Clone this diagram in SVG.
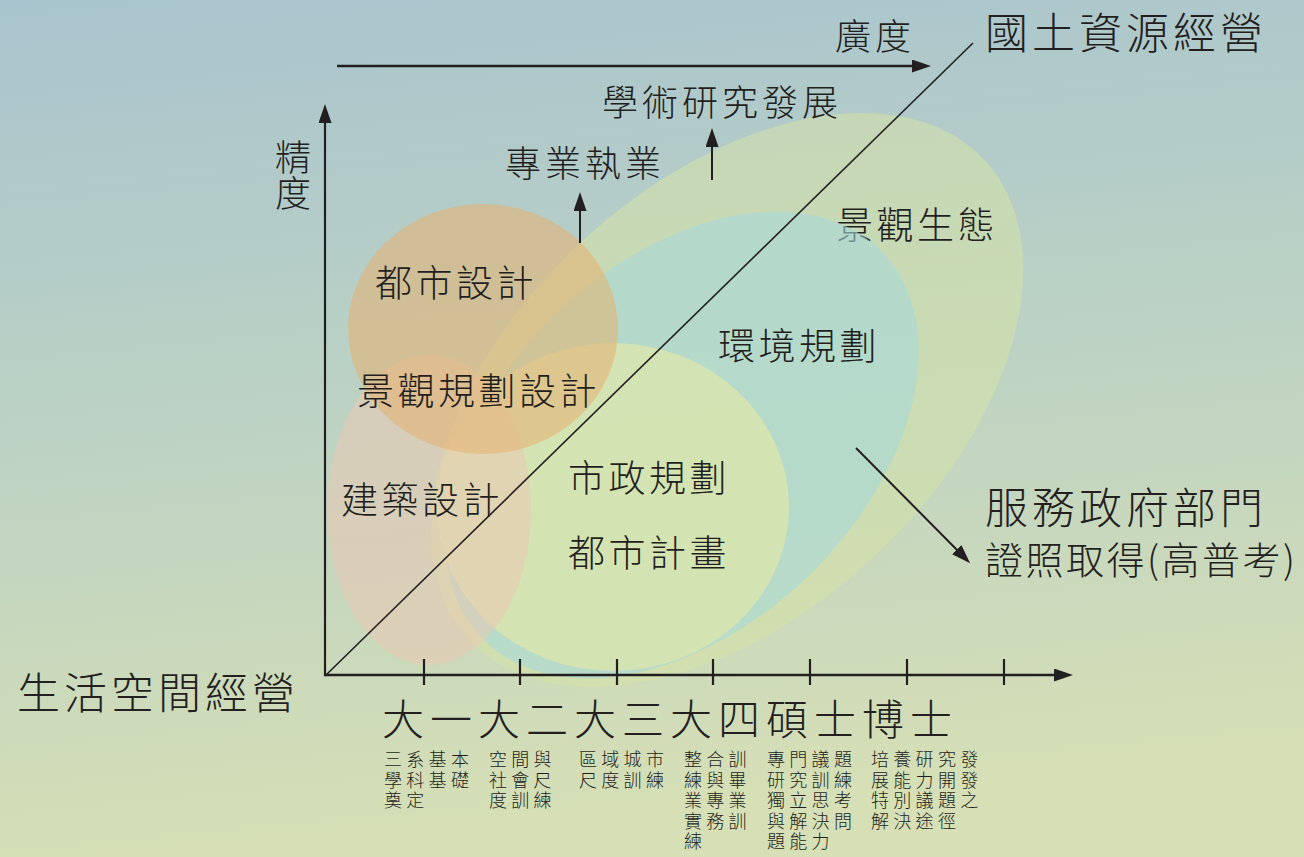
<svg xmlns="http://www.w3.org/2000/svg" width="1304" height="857" viewBox="0 0 1304 857">
<defs>
<linearGradient id="bg" x1="0" y1="0" x2="0.15" y2="1">
<stop offset="0" stop-color="#a8c4ce"/>
<stop offset="0.5" stop-color="#bcd2c4"/>
<stop offset="1" stop-color="#d6dfb5"/>
</linearGradient>
<marker id="ah" viewBox="0 0 19 13" refX="11" refY="6.5" markerWidth="19" markerHeight="13" orient="auto" markerUnits="userSpaceOnUse">
<path d="M0,0 L19,6.5 L0,13 z" fill="#231f20"/>
</marker>
<style>
text{font-family:"Noto Sans CJK TC","Noto Sans CJK SC",sans-serif;fill:#231f20;font-weight:300;}
.lbl{font-size:37px;letter-spacing:3.5px;}
.big{font-size:43px;letter-spacing:4px;}
.mid{font-size:36px;letter-spacing:4px;}
.sm{font-size:18px;letter-spacing:4.3px;}
.ln{stroke:#231f20;fill:none;}
</style>
</defs>
<rect x="0" y="0" width="1304" height="857" fill="url(#bg)"/>

<g id="node-landscape-ecology">
<ellipse cx="727" cy="400" rx="352" ry="215" transform="rotate(-43 727 400)" fill="#d6e2a6" fill-opacity="0.55"/>
<text class="lbl" x="836" y="239">景觀生態</text>
</g>
<g id="node-env-planning">
<ellipse cx="682" cy="445" rx="278" ry="182" transform="rotate(-44 682 445)" fill="#a6d8da" fill-opacity="0.6"/>
<text class="lbl" x="718" y="360">環境規劃</text>
</g>
<g id="node-municipal">
<ellipse cx="613" cy="507" rx="176" ry="164" fill="#dde6ac" fill-opacity="0.78"/>
<text class="lbl" x="568" y="492">市政規劃</text>
<text class="lbl" x="568" y="567">都市計畫</text>
</g>
<g id="node-architecture">
<ellipse cx="429" cy="510" rx="102" ry="155" fill="#eac8b2" fill-opacity="0.55"/>
<text class="lbl" x="341" y="514">建築設計</text>
</g>
<g id="node-urban-design">
<ellipse cx="483" cy="329" rx="135" ry="125" fill="#e6b070" fill-opacity="0.55"/>
<text class="lbl" x="375" y="297">都市設計</text>
<text class="lbl" x="357" y="405">景觀規劃設計</text>
</g>

<g id="connectors">
<line class="ln" x1="325" y1="676" x2="973" y2="43" stroke-width="1.6"/>
<line class="ln" x1="325" y1="676" x2="325" y2="112" stroke-width="2.2" marker-end="url(#ah)"/>
<line class="ln" x1="324" y1="675" x2="1065" y2="675" stroke-width="2.5" marker-end="url(#ah)"/>
<line class="ln" x1="337" y1="66" x2="923" y2="66" stroke-width="2.5" marker-end="url(#ah)"/>
<line class="ln" x1="580" y1="243" x2="580" y2="200" stroke-width="2" marker-end="url(#ah)"/>
<line class="ln" x1="712" y1="180" x2="712" y2="136" stroke-width="2" marker-end="url(#ah)"/>
<line class="ln" x1="856" y1="448" x2="964.5" y2="557.5" stroke-width="2" marker-end="url(#ah)"/>
<g stroke="#231f20" stroke-width="2.2">
<line x1="424" y1="659" x2="424" y2="685"/>
<line x1="520" y1="659" x2="520" y2="685"/>
<line x1="617" y1="659" x2="617" y2="685"/>
<line x1="713" y1="659" x2="713" y2="685"/>
<line x1="810" y1="659" x2="810" y2="685"/>
<line x1="907" y1="659" x2="907" y2="685"/>
<line x1="1004" y1="659" x2="1004" y2="685"/>
</g>
</g>

<g id="axis-labels">
<text class="mid" x="835" y="50">廣度</text>
<text class="big" x="985" y="49">國土資源經營</text>
<text class="mid" x="602" y="116">學術研究發展</text>
<text class="mid" x="505" y="177">專業執業</text>
<text class="mid" x="275" y="171">精<tspan x="275" dy="36">度</tspan></text>
<text class="big" x="985" y="524">服務政府部門</text>
<text style="font-size:38px;letter-spacing:2.5px" x="985" y="574">證照取得(高普考)</text>
<text class="big" x="17" y="709">生活空間經營</text>
<text style="font-size:42px;letter-spacing:6px" x="382" y="735">大一大二大三大四碩士博士</text>
</g>

<g id="stage-notes">
<text class="sm" x="384" y="766">三系基本<tspan x="384" dy="20.5">學科基礎</tspan><tspan x="384" dy="20.5">奠定</tspan></text>
<text class="sm" x="489" y="766">空間與<tspan x="489" dy="20.5">社會尺</tspan><tspan x="489" dy="20.5">度訓練</tspan></text>
<text class="sm" x="579" y="766">區域城市<tspan x="579" dy="20.5">尺度訓練</tspan></text>
<text class="sm" x="684" y="766">整合訓<tspan x="684" dy="20.5">練與畢</tspan><tspan x="684" dy="20.5">業專業</tspan><tspan x="684" dy="20.5">實務訓</tspan><tspan x="684" dy="20.5">練</tspan></text>
<text class="sm" x="767" y="766">專門議題<tspan x="767" dy="20.5">研究訓練</tspan><tspan x="767" dy="20.5">獨立思考</tspan><tspan x="767" dy="20.5">與解決問</tspan><tspan x="767" dy="20.5">題能力</tspan></text>
<text class="sm" x="871" y="766">培養研究發<tspan x="871" dy="20.5">展能力開發</tspan><tspan x="871" dy="20.5">特別議題之</tspan><tspan x="871" dy="20.5">解決途徑</tspan></text>
</g>
</svg>
